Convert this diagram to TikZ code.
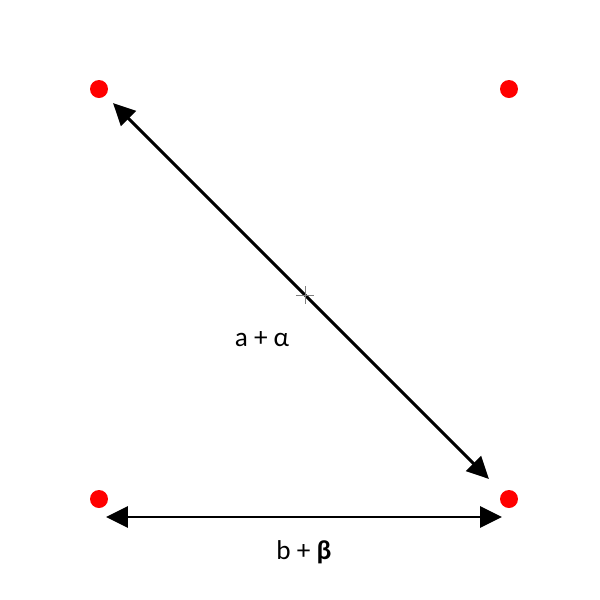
\documentclass[tikz,border=0pt]{standalone}
\usepackage{fontspec}
\setmainfont{Carlito}
\usepackage{tikz}
\usetikzlibrary{arrows.meta}

\tikzset{
  dot/.style={circle, fill=red, inner sep=0pt, minimum size=0.36cm},
  dblarrow/.style={{Triangle[length=0.44cm,width=0.42cm]}-{Triangle[length=0.44cm,width=0.42cm]}, line width=1.7pt},
  lbl/.style={font=\fontsize{15.5}{18}\selectfont}
}

\begin{document}
\begin{tikzpicture}[x=0.02cm,y=-0.02cm]
    \useasboundingbox (0,0) rectangle (600,600);

    % Draw the four corner points
    \node[dot] (tl) at (99,89) {};
    \node[dot] (tr) at (509,89) {};
    \node[dot] (bl) at (99,499) {};
    \node[dot] (br) at (509,499) {};

    % Draw the diagonal arrow and the small cross on it
    \draw[dblarrow, shorten <=0.21cm, shorten >=0.38cm] (tl) -- (br);
    \draw[gray, very thin] (296,295) -- (314,295) (305,286) -- (305,304);
    \node[lbl] (alabel) at (262,339) {a + α};

    % Draw the bottom arrow
    \draw[dblarrow, shorten <=0.14cm, shorten >=0.14cm] ([yshift=-0.36cm]bl.center) -- ([yshift=-0.36cm]br.center);
    \node[lbl] (blabel) at (304,552) {b + \textbf{β}};
\end{tikzpicture}
\end{document}
